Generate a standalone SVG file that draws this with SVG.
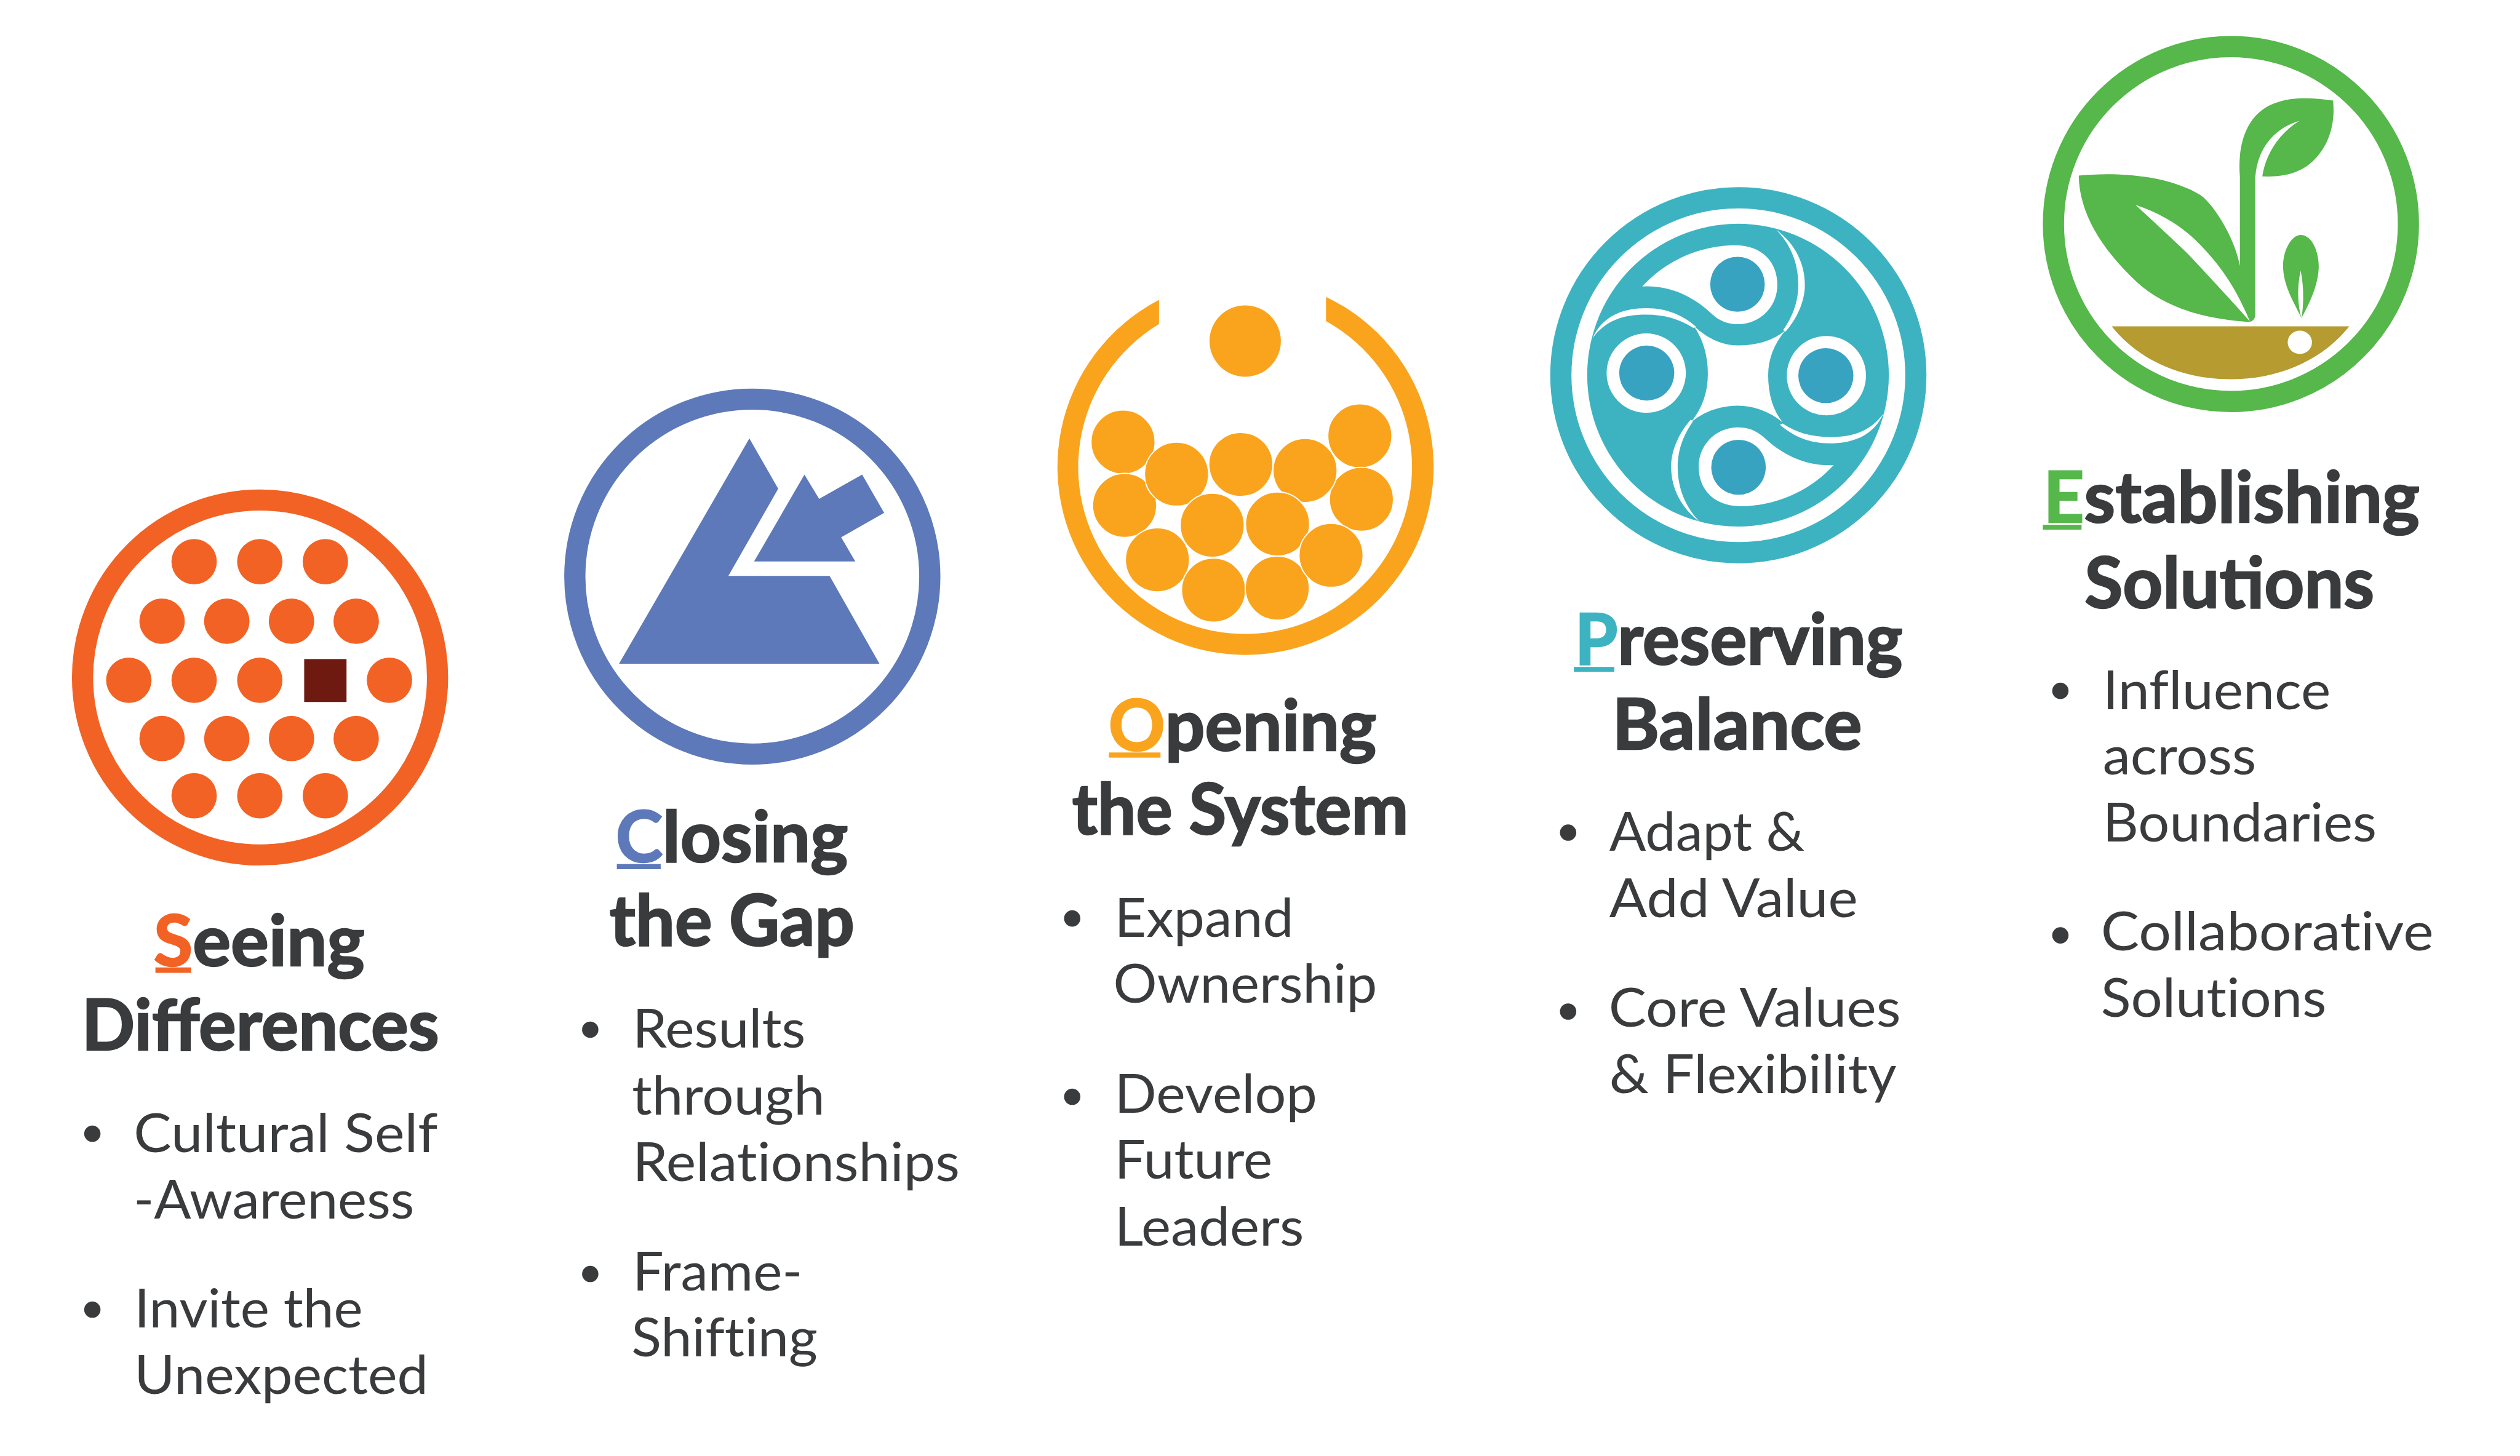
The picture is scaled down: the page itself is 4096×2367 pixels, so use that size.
<svg xmlns="http://www.w3.org/2000/svg" width="4096" height="2367" viewBox="0 0 4096 2367">
<defs>
<style>
text{font-family:"Lato","Carlito","Liberation Sans",sans-serif;fill:#3a3b3d}
.h{font-size:116px;font-weight:700;stroke:#3a3b3d;stroke-width:2.5}
.b{font-size:88px;font-weight:400;font-variant-ligatures:none}
.bu{fill:#3a3b3d}
.ring{fill:none;stroke-width:35}
.w{fill:#fff}
.red{fill:#f26224}.blue{fill:#5d79b9}.org{fill:#faa41e}.teal{fill:#3db3c2}.grn{fill:#56b74a}
.org-ball{fill:#faa41e;stroke:#fff;stroke-width:2}
.deep{fill:#38a3c1}
</style>
<g id="crescents">
<path class="w" d="M215,640C250,560 320,522 420,522C500,522 560,550 610,595L600,600C550,565 490,547 420,547C330,547 265,570 215,640Z"/>
<path class="w" d="M915,213C990,270 1025,350 1025,430C1025,500 990,570 950,615L942,608C975,560 1000,500 1000,430C1000,330 960,260 915,213Z"/>
<path class="w" d="M405,437C490,340 620,275 760,275C860,275 920,340 920,430C920,520 850,585 770,585C720,585 690,565 660,535C590,470 500,430 405,437Z"/>
<ellipse class="deep" cx="768" cy="428" rx="104" ry="108"/>
</g>
</defs>
<rect width="4096" height="2367" fill="#fff"/>
<g transform="scale(0.98296)">

<g id="node-seeing">
<circle class="ring" cx="430" cy="1120.5" r="293.5" stroke="#f26224"/>
<g class="red">
<circle cx="321" cy="929" r="37.5"/><circle cx="429.6" cy="929" r="37.5"/><circle cx="538" cy="929" r="37.5"/>
<circle cx="268" cy="1027.4" r="37.5"/><circle cx="375" cy="1027.4" r="37.5"/><circle cx="482" cy="1027.4" r="37.5"/><circle cx="589" cy="1027.4" r="37.5"/>
<circle cx="213" cy="1125" r="37.5"/><circle cx="321" cy="1125" r="37.5"/><circle cx="429.6" cy="1125" r="37.5"/><circle cx="644" cy="1125" r="37.5"/>
<circle cx="268" cy="1221.5" r="37.5"/><circle cx="375" cy="1221.5" r="37.5"/><circle cx="482" cy="1221.5" r="37.5"/><circle cx="589" cy="1221.5" r="37.5"/>
<circle cx="321" cy="1316" r="37.5"/><circle cx="429.6" cy="1316" r="37.5"/><circle cx="538" cy="1316" r="37.5"/>
</g>
<rect x="503" y="1090" width="70" height="71" fill="#6e1a10"/>
<rect class="red" x="257" y="1600" width="59" height="9"/>
<text class="h" x="254" y="1597" textLength="349" lengthAdjust="spacingAndGlyphs"><tspan style="fill:#f26224;stroke:#f26224">S</tspan>eeing</text>
<text class="h" x="135" y="1737" textLength="591" lengthAdjust="spacingAndGlyphs">Differences</text>
<circle class="bu" cx="152.7" cy="1875" r="13.5"/>
<text class="b" x="221" y="1905" textLength="503" lengthAdjust="spacingAndGlyphs">Cultural Self</text>
<text class="b" x="221" y="2015" textLength="464" lengthAdjust="spacingAndGlyphs">-Awareness</text>
<circle class="bu" cx="152.7" cy="2166" r="13.5"/>
<text class="b" x="222" y="2195" textLength="378" lengthAdjust="spacingAndGlyphs">Invite the</text>
<text class="b" x="222" y="2305" textLength="486" lengthAdjust="spacingAndGlyphs">Unexpected</text>
</g>

<g id="node-closing">
<circle class="ring" cx="1244" cy="953.6" r="293.5" stroke="#5d79b9"/>
<g class="blue" transform="translate(900,620) scale(.43367,.42092)">
<polygon points="782,250 892,447 702,790 1088,790 1278,1135 285,1135"/>
<polygon points="992,392 1048,487 1212,392 1296,542 1132,638 1186,733 800,733"/>
</g>
<rect class="blue" x="1020" y="1429" width="72.5" height="8.5"/>
<text class="h" x="1018" y="1425" textLength="384" lengthAdjust="spacingAndGlyphs"><tspan style="fill:#5d79b9;stroke:#5d79b9">C</tspan>losing</text>
<text class="h" x="1008" y="1564" textLength="405" lengthAdjust="spacingAndGlyphs">the Gap</text>
<circle class="bu" cx="976" cy="1703" r="13.5"/>
<text class="b" x="1046" y="1733" textLength="286" lengthAdjust="spacingAndGlyphs">Results</text>
<text class="b" x="1045" y="1843" textLength="319" lengthAdjust="spacingAndGlyphs">through</text>
<text class="b" x="1046" y="1953" textLength="541" lengthAdjust="spacingAndGlyphs">Relationships</text>
<circle class="bu" cx="976" cy="2107" r="13.5"/>
<text class="b" x="1046" y="2134" textLength="281" lengthAdjust="spacingAndGlyphs">Frame-</text>
<text class="b" x="1044" y="2243.6" textLength="308" lengthAdjust="spacingAndGlyphs">Shifting</text>
</g>

<g id="node-opening">
<path class="org" d="M1916.5,496A311,311 0 1 0 2192.6,491L2192.6,531A276,276 0 1 1 1916.5,536Z"/>
<circle class="org" cx="2059" cy="564" r="59"/>
<circle class="org-ball" cx="1857" cy="731.1" r="53"/>
<circle class="org-ball" cx="1859.6" cy="835.9" r="53"/>
<circle class="org-ball" cx="1945.5" cy="784.1" r="53"/>
<circle class="org-ball" cx="2051.8" cy="768.1" r="53"/>
<circle class="org-ball" cx="2248.6" cy="721" r="53"/>
<circle class="org-ball" cx="2251.2" cy="825.8" r="53"/>
<circle class="org-ball" cx="2158" cy="778.2" r="53"/>
<circle class="org-ball" cx="2004.5" cy="868.7" r="53"/>
<circle class="org-ball" cx="2112.5" cy="866.6" r="53"/>
<circle class="org-ball" cx="1913.9" cy="926" r="53"/>
<circle class="org-ball" cx="2006.7" cy="976" r="53"/>
<circle class="org-ball" cx="2112" cy="972.7" r="53"/>
<circle class="org-ball" cx="2201" cy="918.4" r="53"/>
<rect class="org" x="1833.6" y="1244.5" width="85.4" height="8.5"/>
<text class="h" x="1833" y="1241" textLength="443" lengthAdjust="spacingAndGlyphs"><tspan style="fill:#faa41e;stroke:#faa41e">O</tspan>pening</text>
<text class="h" x="1773" y="1380" textLength="556" lengthAdjust="spacingAndGlyphs">the System</text>
<circle class="bu" cx="1773" cy="1519" r="13.5"/>
<text class="b" x="1843" y="1549" textLength="296" lengthAdjust="spacingAndGlyphs">Expand</text>
<text class="b" x="1841" y="1658" textLength="436" lengthAdjust="spacingAndGlyphs">Ownership</text>
<circle class="bu" cx="1773" cy="1814" r="13.5"/>
<text class="b" x="1843" y="1840" textLength="335" lengthAdjust="spacingAndGlyphs">Develop</text>
<text class="b" x="1843" y="1949.6" textLength="261" lengthAdjust="spacingAndGlyphs">Future</text>
<text class="b" x="1843" y="2060" textLength="313" lengthAdjust="spacingAndGlyphs">Leaders</text>
</g>

<g id="node-preserving">
<circle class="ring" cx="2874.5" cy="620.5" r="293.5" stroke="#3db3c2"/>
<g transform="translate(2540,290) scale(.43367,.42092)">
<ellipse class="teal" cx="770" cy="785" rx="575" ry="595"/>
<path class="w" d="M600,590Q680,668 770,668Q880,668 950,610Q885,690 885,785Q885,900 940,970Q860,905 770,905Q670,905 590,970Q655,890 655,780Q655,670 600,590Z"/>
<use href="#crescents"/>
<use href="#crescents" transform="rotate(180 770 787.5)"/>
<ellipse class="w" cx="420" cy="777" rx="151" ry="156"/>
<ellipse class="deep" cx="422" cy="777" rx="105" ry="108"/>
<ellipse class="w" cx="1107" cy="787" rx="151" ry="156"/>
<ellipse class="deep" cx="1105" cy="787" rx="105" ry="108"/>
</g>
<rect class="teal" x="2602.5" y="1103" width="67" height="8"/>
<text class="h" x="2604" y="1099" textLength="542" lengthAdjust="spacingAndGlyphs"><tspan style="fill:#3db3c2;stroke:#3db3c2">P</tspan>reserving</text>
<text class="h" x="2666" y="1239" textLength="413" lengthAdjust="spacingAndGlyphs">Balance</text>
<circle class="bu" cx="2593" cy="1377" r="13.5"/>
<text class="b" x="2661" y="1407" textLength="323" lengthAdjust="spacingAndGlyphs">Adapt &amp;</text>
<text class="b" x="2661" y="1517" textLength="411" lengthAdjust="spacingAndGlyphs">Add Value</text>
<circle class="bu" cx="2593" cy="1673" r="13.5"/>
<text class="b" x="2660" y="1698" textLength="483" lengthAdjust="spacingAndGlyphs">Core Values</text>
<text class="b" x="2661" y="1808" textLength="475" lengthAdjust="spacingAndGlyphs">&amp; Flexibility</text>
</g>

<g id="node-establishing">
<circle class="ring" cx="3689" cy="370.5" r="293.5" stroke="#56b74a"/>
<g transform="translate(3340,40) scale(.44643,.42092)">
<path class="grn" d="M218,595C350,580 560,590 680,680C740,740 800,860 815,950L815,600C805,470 840,340 960,305C1020,285 1090,290 1160,300C1170,400 1140,500 1060,560C1010,595 950,600 898,598C910,510 960,430 1035,380C940,410 880,490 872,600L872,1140Q872,1165 850,1170C700,1160 540,1120 430,1010C300,880 220,740 218,595Z"/>
<path class="w" d="M428,710C540,750 620,810 680,880C760,970 810,1060 852,1168C800,1105 700,990 620,900C560,840 490,770 428,710Z"/>
<path class="grn" d="M1040,828C1085,828 1107,900 1107,950C1107,1030 1065,1110 1043,1155C1020,1100 975,1030 975,950C975,890 1005,828 1040,828Z"/>
<path class="w" d="M1040,968C1025,1040 1030,1110 1043,1155C1052,1100 1052,1030 1040,968Z"/>
<path fill="#b59b30" d="M340,1187L1220,1187C1120,1320 960,1395 780,1395C600,1395 440,1320 340,1187Z"/>
<ellipse class="w" cx="1037" cy="1250" rx="45" ry="46"/>
</g>
<rect class="grn" x="3378" y="868" width="64" height="8"/>
<text class="h" x="3379" y="864" textLength="622" lengthAdjust="spacingAndGlyphs"><tspan style="fill:#56b74a;stroke:#56b74a">E</tspan>stablishing</text>
<text class="h" x="3447" y="1005" textLength="479" lengthAdjust="spacingAndGlyphs">Solutions</text>
<circle class="bu" cx="3407" cy="1142.6" r="13.5"/>
<text class="b" x="3477" y="1172.5" textLength="377" lengthAdjust="spacingAndGlyphs">Influence</text>
<text class="b" x="3477" y="1281" textLength="254" lengthAdjust="spacingAndGlyphs">across</text>
<text class="b" x="3477" y="1391.6" textLength="453" lengthAdjust="spacingAndGlyphs">Boundaries</text>
<circle class="bu" cx="3407" cy="1547" r="13.5"/>
<text class="b" x="3474" y="1572" textLength="550" lengthAdjust="spacingAndGlyphs">Collaborative</text>
<text class="b" x="3474" y="1682" textLength="373" lengthAdjust="spacingAndGlyphs">Solutions</text>
</g>

</g>
</svg>
